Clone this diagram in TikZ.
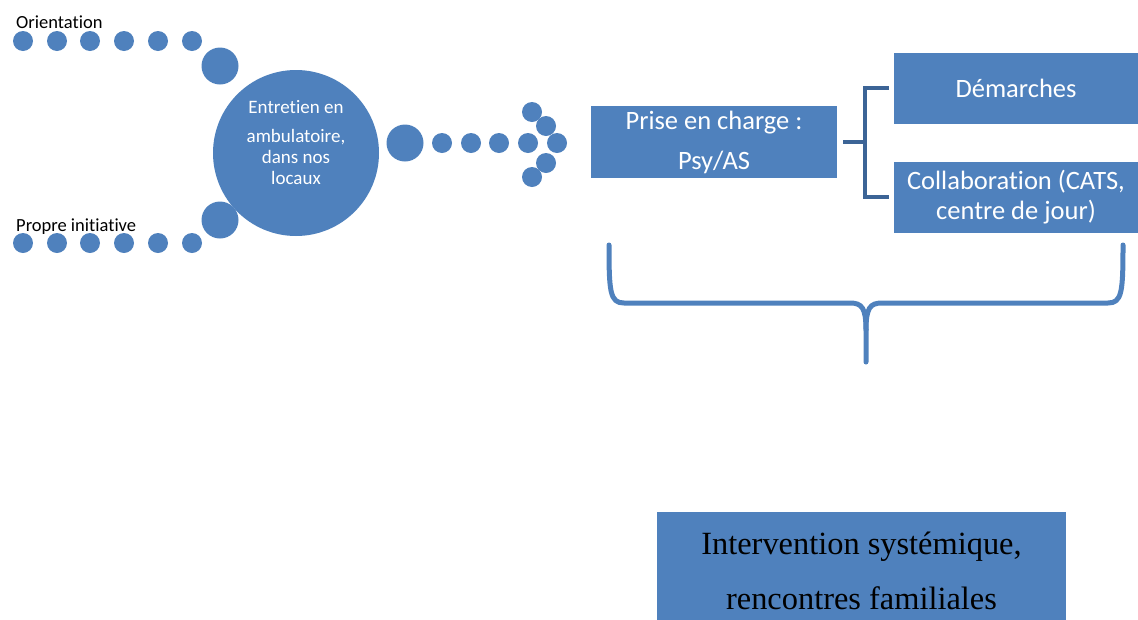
\documentclass[tikz,border=0pt]{standalone}
\usepackage{fontspec}
\setmainfont[Ligatures=NoCommon]{Carlito}
\newfontfamily\timesfont{Liberation Serif}
\usetikzlibrary{positioning}
\definecolor{officeblue}{RGB}{79,129,189}
\definecolor{bracketblue}{RGB}{60,100,150}

\begin{document}
\begin{tikzpicture}[x=1pt,y=-1pt,
    smalldot/.style={circle,fill=officeblue,inner sep=0pt,minimum size=20pt},
    meddot/.style={circle,fill=officeblue,inner sep=0pt,minimum size=37pt},
    bluebox/.style={rectangle,fill=officeblue,text=white,inner sep=0pt,
        align=center,font=\fontsize{26.5}{30}\selectfont},
    sidelabel/.style={anchor=base west,inner sep=0pt,
        font=\fontsize{18.5}{21}\selectfont},
    bracket/.style={bracketblue,line width=4pt},
    bigbrace/.style={officeblue,line width=5pt,line cap=round,line join=round}]
            \useasboundingbox (0,0) rectangle (1138,619);
            % entry paths
            \node[sidelabel] (orient) at (16,28) {Orientation};
            \node[sidelabel] (propre) at (16,231) {Propre initiative};
            \foreach \x [count=\i] in {23,57,90,124,158,192} {
                \node[smalldot] (top\i) at (\x,41) {};
                \node[smalldot] (bot\i) at (\x,243) {};
            }
            \node[meddot] (topjoin) at (220,66) {};
            \node[meddot] (botjoin) at (220,220) {};
            \node[circle,fill=officeblue,inner sep=0pt,minimum size=166pt]
                (entretien) at (296,153) {};
            \node[text=white,align=center,font=\fontsize{19}{21}\selectfont]
                (entretientext) at ([yshift=10pt]entretien.center)
                {Entretien en\\[8pt]ambulatoire,\\dans nos\\locaux};
            % dotted arrow
            \node[meddot] (arrowstart) at (405,143) {};
            \foreach \x [count=\i] in {442,471,499,528}
                \node[smalldot] (mid\i) at (\x,143) {};
            \foreach \x/\y [count=\i] in {532/112,546/126,557/143,546/163,532/177}
                \node[smalldot] (head\i) at (\x,\y) {};
            % boxes
            \node[bluebox,minimum width=246,minimum height=72]
                (prise) at (714,142) {Prise en charge :\\[10pt]Psy/AS};
            \node[bluebox,minimum width=244,minimum height=71]
                (demarches) at (1016,88) {D\'emarches};
            \node[bluebox,minimum width=244,minimum height=71]
                (collab) at (1016,197) {Collaboration (CATS,\\centre de jour)};
            \path (demarches.west |- prise.east) ++(-29,0) coordinate (split);
            \draw[bracket] ([xshift=6pt]prise.east) -- (split);
            \draw[bracket] ([xshift=-5pt]demarches.west) -| (split)
                |- ([xshift=-5pt]collab.west);
            % brace
            \coordinate (bracetip) at (866,362);
            \draw[bigbrace] (609,245) .. controls (609,292) and (610,303) .. (624,303)
                -- (850,303) .. controls (862,303) and (866,308) .. (866,330)
                -- (bracetip);
            \draw[bigbrace] (1123,245) .. controls (1123,292) and (1122,303) .. (1108,303)
                -- (882,303) .. controls (870,303) and (866,308) .. (866,330);
            \node[bluebox,text=black,minimum width=409,minimum height=118,
                font=\timesfont\fontsize{32.4}{55}\selectfont]
                (intervention) at (861.5,571)
                {Intervention syst\'emique,\\rencontres familiales};
        \end{tikzpicture}
\end{document}
